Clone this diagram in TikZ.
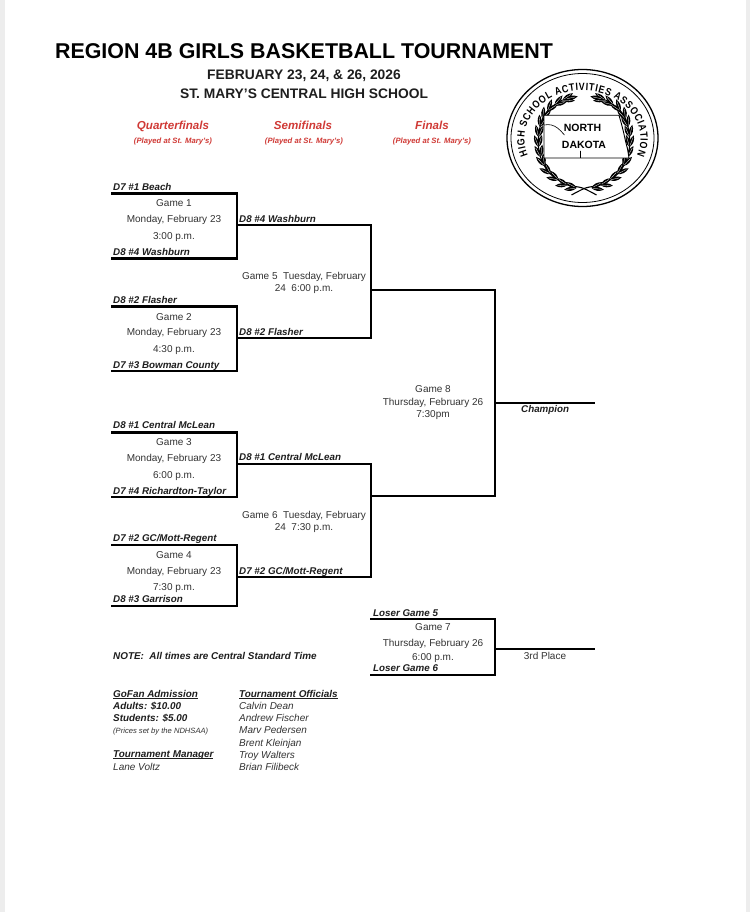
\documentclass[tikz,border=0pt]{standalone}
\usepackage{fontspec}
\setmainfont{Liberation Sans}
\newfontfamily\sealfont[FakeStretch=0.84]{Liberation Sans}
\usetikzlibrary{decorations.text,calc}
\definecolor{redhead}{HTML}{D03A36}
\definecolor{inkk}{HTML}{1E1E1E}
\definecolor{infoc}{HTML}{333333}
\definecolor{edgeg}{HTML}{EDEDED}
\tikzset{
 x=1pt,y=-1pt,
 br/.style={line width=2.7pt,black,line cap=rect,line join=miter},
 tm/.style={font=\fontsize{9.8}{11}\selectfont\bfseries\itshape,anchor=base west,inner sep=0pt,text=inkk},
 info/.style={font=\fontsize{10}{12}\selectfont,anchor=base,inner sep=0pt,text=infoc,align=center},
 rh/.style={font=\fontsize{11.6}{13}\selectfont\bfseries\itshape,text=redhead,anchor=base,inner sep=0pt},
 rs/.style={font=\fontsize{7.7}{9}\selectfont\bfseries\itshape,text=redhead,anchor=base,inner sep=0pt},
 ft/.style={font=\fontsize{10}{11}\selectfont\itshape,anchor=base west,inner sep=0pt,text=infoc},
 fb/.style={font=\fontsize{9.9}{11}\selectfont\bfseries\itshape,anchor=base west,inner sep=0pt,text=inkk},
 tt/.style={font=\fontsize{13.8}{16}\selectfont\bfseries,anchor=base,inner sep=0pt,text=inkk},
}
\newcommand{\sealleaf}[3]{%
 \begin{scope}[shift={(#1,#2)},rotate=#3]
  \fill[black] (0,0) .. controls (4,2.8) and (8,2.6) .. (12.5,0) .. controls (8,-2.6) and (4,-2.8) .. (0,0) -- cycle;
  \draw[white,line width=0.3pt] (1.5,0) -- (10,0);
 \end{scope}}
\begin{document}
\begin{tikzpicture}
\useasboundingbox (0,0) rectangle (750,912);
\fill[white] (0,0) rectangle (750,912);
\fill[edgeg] (0,0) rectangle (4.5,912);
\fill[edgeg] (745.5,0) rectangle (750,912);
% titles
\node[font=\fontsize{21.4}{25}\selectfont\bfseries,anchor=base,inner sep=0pt] (title) at (304,59) {REGION 4B GIRLS BASKETBALL TOURNAMENT};
\node[tt] (dates) at (304,79.5) {FEBRUARY 23, 24, \& 26, 2026};
\node[tt] (place) at (304,99) {ST. MARY'S CENTRAL HIGH SCHOOL};
% round heads
\node[rh] (h1) at (173,129.5) {Quarterfinals};
\node[rh] (h2) at (303,129.5) {Semifinals};
\node[rh] (h3) at (432,129.5) {Finals};
\node[rs] (s1) at (173,144) {(Played at St. Mary's)};
\node[rs] (s2) at (304,144) {(Played at St. Mary's)};
\node[rs] (s3) at (432,144) {(Played at St. Mary's)};
% brackets
\coordinate (a1) at (112,193.5); \coordinate (a2) at (237,193.5); \coordinate (a3) at (237,258.5); \coordinate (a4) at (112,258.5);
\draw[br] (a1)--(a2)--(a3)--(a4);
\coordinate (b1) at (112,306.5); \coordinate (b2) at (237,306.5); \coordinate (b3) at (237,371); \coordinate (b4) at (112,371);
\draw[br] (b1)--(b2)--(b3)--(b4);
\coordinate (c1) at (112,432.5); \coordinate (c2) at (237,432.5); \coordinate (c3) at (237,497); \coordinate (c4) at (112,497);
\draw[br] (c1)--(c2)--(c3)--(c4);
\coordinate (d1) at (112,545); \coordinate (d2) at (237,545); \coordinate (d3) at (237,606); \coordinate (d4) at (112,606);
\draw[br] (d1)--(d2)--(d3)--(d4);
\coordinate (e1) at (237,225); \coordinate (e2) at (371,225); \coordinate (e3) at (371,338); \coordinate (e4) at (237,338);
\draw[br] (e1)--(e2)--(e3)--(e4);
\coordinate (f1) at (237,464); \coordinate (f2) at (371,464); \coordinate (f3) at (371,577); \coordinate (f4) at (237,577);
\draw[br] (f1)--(f2)--(f3)--(f4);
\coordinate (g1) at (371,290); \coordinate (g2) at (495,290); \coordinate (g3) at (495,496); \coordinate (g4) at (371,496);
\draw[br] (g1)--(g2)--(g3)--(g4);
\coordinate (ch1) at (495,403); \coordinate (ch2) at (595,403);
\draw[line width=2.4pt] (ch1)--(ch2);
\coordinate (t1) at (371,619); \coordinate (t2) at (495,619); \coordinate (t3) at (495,675); \coordinate (t4) at (371,675);
\draw[br] (t1)--(t2)--(t3)--(t4);
\coordinate (tp1) at (495,649); \coordinate (tp2) at (595,649);
\draw[line width=1.6pt] (tp1)--(tp2);
% team labels
\node[tm] (l1) at (113,190) {D7 \#1 Beach};
\node[tm] (l2) at (113,255) {D8 \#4 Washburn};
\node[tm] (l3) at (113,303) {D8 \#2 Flasher};
\node[tm] (l4) at (113,368) {D7 \#3 Bowman County};
\node[tm] (l5) at (113,428) {D8 \#1 Central McLean};
\node[tm] (l6) at (113,494) {D7 \#4 Richardton-Taylor};
\node[tm] (l7) at (113,541) {D7 \#2 GC/Mott-Regent};
\node[tm] (l8) at (113,602) {D8 \#3 Garrison};
\node[tm] (m1) at (239,222) {D8 \#4 Washburn};
\node[tm] (m2) at (239,335) {D8 \#2 Flasher};
\node[tm] (m3) at (239,460) {D8 \#1 Central McLean};
\node[tm] (m4) at (239,574) {D7 \#2 GC/Mott-Regent};
\node[tm] (ch) at (521,412) {Champion};
\node[tm] (t5) at (373,616) {Loser Game 5};
\node[tm] (t6) at (373,671) {Loser Game 6};
% game info
\node[info] (g1a) at (174,207) {Game 1};
\node[info] (g1b) at (174,222) {Monday, February 23};
\node[info] (g1c) at (174,239) {3:00 p.m.};
\node[info] (g2a) at (174,320) {Game 2};
\node[info] (g2b) at (174,335) {Monday, February 23};
\node[info] (g2c) at (174,352) {4:30 p.m.};
\node[info] (g3a) at (174,445) {Game 3};
\node[info] (g3b) at (174,461) {Monday, February 23};
\node[info] (g3c) at (174,478) {6:00 p.m.};
\node[info] (g4a) at (174,558) {Game 4};
\node[info] (g4b) at (174,574) {Monday, February 23};
\node[info] (g4c) at (174,590) {7:30 p.m.};
\node[info] (g5a) at (304,279) {Game 5\ \ Tuesday, February};
\node[info] (g5b) at (304,291) {24\ \ 6:00 p.m.};
\node[info] (g6a) at (304,518) {Game 6\ \ Tuesday, February};
\node[info] (g6b) at (304,530) {24\ \ 7:30 p.m.};
\node[info] (g8a) at (433,392) {Game 8};
\node[info] (g8b) at (433,405) {Thursday, February 26};
\node[info] (g8c) at (433,417) {7:30pm};
\node[info] (g7a) at (433,630) {Game 7};
\node[info] (g7b) at (433,646) {Thursday, February 26};
\node[info] (g7c) at (433,660) {6:00 p.m.};
\node[info] (third) at (545,659) {3rd Place};
% notes
\node[fb] (note) at (113,659) {NOTE:\ \ All times are Central Standard Time};
\node[fb] (gf) at (113,697) {\underline{\smash{GoFan Admission}}};
\node[fb] (ad) at (113,709) {Adults: \$10.00};
\node[fb] (st) at (113,721) {Students: \$5.00};
\node[ft,font=\fontsize{7.6}{9}\selectfont\itshape] (pr) at (113,733) {(Prices set by the NDHSAA)};
\node[fb] (tm) at (113,757) {\underline{\smash{Tournament Manager}}};
\node[ft] (lv) at (113,770) {Lane Voltz};
\node[fb] (to) at (239,697) {\underline{\smash{Tournament Officials}}};
\node[ft] (o1) at (239,709) {Calvin Dean};
\node[ft] (o2) at (239,721) {Andrew Fischer};
\node[ft] (o3) at (239,733) {Marv Pedersen};
\node[ft] (o4) at (239,746) {Brent Kleinjan};
\node[ft] (o5) at (239,758) {Troy Walters};
\node[ft] (o6) at (239,770) {Brian Filibeck};
% seal (y upward inside this scope)
\begin{scope}[shift={(582.5,138)},x=1pt,y=1pt]
 \draw[line width=1.3pt] (0,0) ellipse[x radius=75.5pt,y radius=68.5pt];
 \draw[line width=0.8pt] (0,0) ellipse[x radius=71.5pt,y radius=64.5pt];
 \path[decorate,decoration={text along path,text align={fit to path},
   text={|\sealfont\fontsize{10.5}{12}\selectfont\bfseries|HIGH SCHOOL ACTIVITIES ASSOCIATION}}]
   (-54.5,-17) arc[start angle=200,end angle=-20,x radius=58pt,y radius=48pt];
 % wreath
 \foreach \sgn/\dx in {1/0,-1/-3}{
  \begin{scope}[xscale=\sgn,shift={(\dx,0)}]
   \draw[line width=1.1pt] plot[smooth] coordinates {(14,-57) (0,-50) (-15,-47) (-24,-42) (-32,-36) (-38,-28) (-42,-19) (-44,-9) (-44,1) (-42.5,11) (-40,19) (-35,27) (-28,33) (-20,38)};
   \foreach \px/\py/\d in {-6/-50/170,-15/-47/165,-24/-42/150,-32/-36/135,-38/-28/115,-42/-19/100,-44/-9/92,-44/1/85,-42.5/11/75,-40/19/65,-35/27/52,-28/33/32,-20/38/15}{
    \pgfmathsetmacro{\ao}{\d-18}
    \pgfmathsetmacro{\ai}{\d+18}
    \sealleaf{\px}{\py}{\ao}
    \sealleaf{\px}{\py}{\ai}
   }
   \sealleaf{-17}{39}{12}
  \end{scope}
 }
 % state
 \draw[line width=0.9pt,fill=white] (-38.5,22.7) -- (36.5,22.7) -- (39,14) -- (41,6) -- (43,-3) -- (45,-11) -- (46.5,-20) -- (-38.5,-20) -- cycle;
 \draw[line width=0.6pt] (-38.5,13) .. controls (-33,14) and (-29,13) .. (-25,10) .. controls (-22,8) and (-21,6) .. (-18,3);
 \draw[line width=0.7pt] (-2,-13) .. controls (-3,-15) and (-1,-17) .. (-2,-20);
 \node[font=\fontsize{10.5}{12}\selectfont\bfseries,inner sep=0pt,anchor=center] (nd1) at (0,10) {NORTH};
 \node[font=\fontsize{10.5}{12}\selectfont\bfseries,inner sep=0pt,anchor=center] (nd2) at (1.5,-6.5) {DAKOTA};
\end{scope}
\end{tikzpicture}
\end{document}
